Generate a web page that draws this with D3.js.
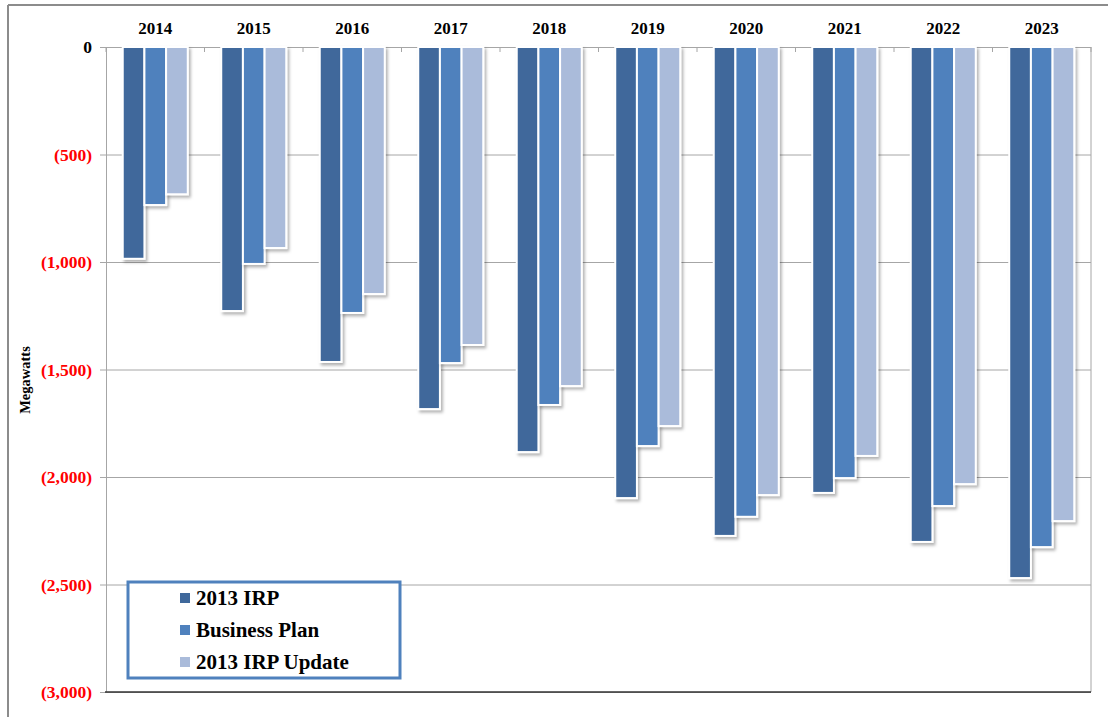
<!DOCTYPE html>
<html>
<head>
<meta charset="utf-8">
<script src="https://cdn.jsdelivr.net/npm/d3@7/dist/d3.min.js"></script>
<style>
  html, body { margin: 0; padding: 0; background: #fff; }
  svg { display: block; }
  text { font-family: "Liberation Serif", "Times New Roman", serif; font-weight: bold; }
</style>
</head>
<body>
<svg id="chart" width="1108" height="717"></svg>
<script>
// Annual capacity position (MW) by plan
const years = ["2014", "2015", "2016", "2017", "2018", "2019", "2020", "2021", "2022", "2023"];
const seriesNames = ["2013 IRP", "Business Plan", "2013 IRP Update"];
const irp2013 = [-985, -1228, -1465, -1684, -1884, -2098, -2274, -2074, -2302, -2470];
const businessPlan = [-735, -1009, -1237, -1470, -1665, -1856, -2185, -2005, -2135, -2326];
const irpUpdate = [-685, -935, -1149, -1386, -1577, -1763, -2084, -1902, -2033, -2205];
const tickValues = [0, -500, -1000, -1500, -2000, -2500, -3000];
const tickLabels = ["0", "(500)", "(1,000)", "(1,500)", "(2,000)", "(2,500)", "(3,000)"];
const colors = ["#3F689B", "#4F81BD", "#AABBDA"];

const seriesValues = [irp2013, businessPlan, irpUpdate];
const data = years.map((yr, i) => ({
  year: yr,
  values: seriesValues.map((s, j) => ({ key: seriesNames[j], value: s[i] }))
}));

const svg = d3.select("#chart");

// Drop shadow used by the bars
const defs = svg.append("defs");
const f = defs.append("filter").attr("id", "shadow")
  .attr("x", "-20%").attr("y", "-5%").attr("width", "150%").attr("height", "115%");
f.append("feDropShadow").attr("dx", 2).attr("dy", 2.5).attr("stdDeviation", 1.4)
  .attr("flood-color", "#000").attr("flood-opacity", 0.3);

const plotLeft = 106, plotRight = 1091, plotTop = 47, plotBottom = 692;

const x = d3.scaleBand().domain(years).range([plotLeft, plotRight])
  .paddingInner(0.34).paddingOuter(0.17);
const xs = d3.scaleBand().domain(seriesNames).range([0, x.bandwidth()]);
const y = d3.scaleLinear().domain([0, -3000]).range([plotTop, plotBottom]);

// Outer frame
svg.append("line").attr("x1", 8).attr("x2", 1108).attr("y1", 5).attr("y2", 5)
  .attr("stroke", "#8c8c8c").attr("stroke-width", 2);
svg.append("line").attr("x1", 8).attr("x2", 8).attr("y1", 5).attr("y2", 717)
  .attr("stroke", "#8c8c8c").attr("stroke-width", 2);

// Horizontal gridlines with outside ticks
const yAxis = d3.axisLeft(y).tickValues(tickValues)
  .tickSize(-(plotRight - plotLeft)).tickSizeOuter(0)
  .tickFormat((d, i) => tickLabels[i]);
const gy = svg.append("g").attr("transform", `translate(${plotLeft},0)`).call(yAxis);
gy.select(".domain").attr("stroke", "#a6a6a6");
gy.selectAll(".tick line").attr("stroke", "#a6a6a6").attr("x1", -6);
gy.selectAll(".tick text")
  .attr("x", -14)
  .attr("font-size", 17.5)
  .attr("font-family", "Liberation Serif, Times New Roman, serif")
  .attr("font-weight", "bold")
  .attr("fill", d => d === 0 ? "#000" : "#ff0000");

// Right border of the plot area
svg.append("line").attr("x1", plotRight).attr("x2", plotRight)
  .attr("y1", plotTop).attr("y2", plotBottom)
  .attr("stroke", "#a6a6a6");

// Bottom line
svg.append("line").attr("x1", plotLeft - 1).attr("x2", plotRight)
  .attr("y1", plotBottom).attr("y2", plotBottom)
  .attr("stroke", "#333").attr("stroke-width", 1.5);

// Category axis along zero with ticks between years
const step = x.step();
const boundaries = d3.range(years.length + 1).map(i => plotLeft + i * step);
svg.append("g").selectAll("line").data(boundaries).join("line")
  .attr("x1", d => d).attr("x2", d => d)
  .attr("y1", plotTop).attr("y2", plotTop + 5)
  .attr("stroke", "#a6a6a6");

svg.append("g").selectAll("text").data(years).join("text")
  .attr("x", d => x(d) + x.bandwidth() / 2)
  .attr("y", 34)
  .attr("text-anchor", "middle")
  .attr("font-size", 17)
  .attr("fill", "#000")
  .text(d => d);

// Bars
const groups = svg.append("g").selectAll("g").data(data).join("g")
  .attr("transform", d => `translate(${x(d.year)},0)`);
groups.selectAll("rect").data(d => d.values).join("rect")
  .attr("x", d => xs(d.key))
  .attr("y", y(0))
  .attr("width", xs.bandwidth())
  .attr("height", d => y(d.value) - y(0))
  .attr("fill", (d, i) => colors[i])
  .attr("stroke", "#fff")
  .attr("stroke-width", 2)
  .attr("filter", "url(#shadow)");

// Axis title
svg.append("text")
  .attr("transform", "translate(30,380) rotate(-90)")
  .attr("text-anchor", "middle")
  .attr("font-size", 14.5)
  .attr("fill", "#000")
  .text("Megawatts");

// Legend
const lg = svg.append("g").attr("transform", "translate(128,582)");
lg.append("rect").attr("width", 272).attr("height", 96)
  .attr("fill", "#fff").attr("stroke", "#4F81BD").attr("stroke-width", 3);
const items = lg.selectAll("g").data(seriesNames).join("g")
  .attr("transform", (d, i) => `translate(52,${16 + i * 32})`);
items.append("rect").attr("x", 0).attr("y", -5).attr("width", 10).attr("height", 10)
  .attr("fill", (d, i) => colors[i]);
items.append("text").attr("x", 16).attr("y", 7)
  .attr("font-size", 21).attr("fill", "#000")
  .text(d => d);
</script>
</body>
</html>
